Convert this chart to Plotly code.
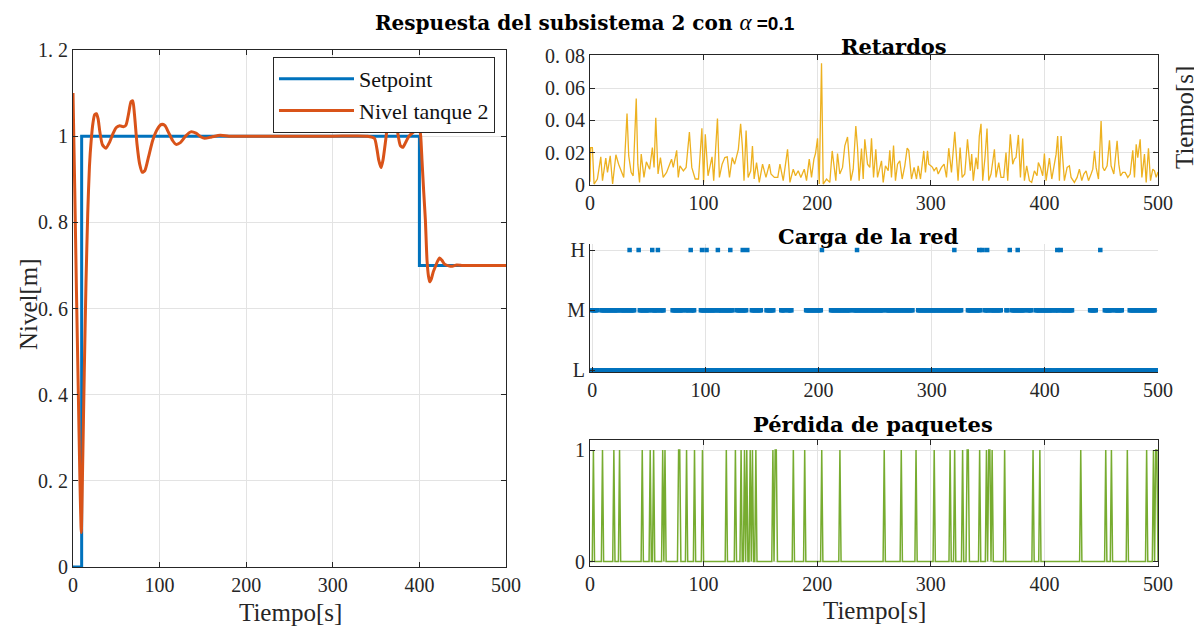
import numpy as np
import plotly.graph_objects as go

# ---------------- DATA ----------------
# Left: setpoint and tank level
sp_t = [0, 10, 10, 400, 400, 500]
sp_v = [0, 0, 1, 1, 0.7, 0.7]

lvl_t = [0, 2, 4, 6, 8, 9.6, 11, 13, 15, 17, 19, 21, 23, 25, 27, 29, 31, 34, 38, 42, 46, 50,
         54, 58, 61, 64, 67, 69, 71, 74, 77, 80, 83, 87, 92, 97, 102, 106, 110, 115, 119, 124,
         130, 136, 142, 148, 152, 160, 170, 180, 200, 250, 300, 340, 348, 351, 353, 355.7, 358,
         361, 364, 367, 369, 371, 373.5, 376, 378, 381, 384, 388, 392, 395, 398, 400.4, 401.5,
         403, 405, 406.9, 408.8, 410.5, 411.9, 414, 416, 418.4, 421, 423.4, 426, 429, 433.8,
         438, 443, 450, 460, 475, 500]
lvl_v = [1.10, 0.88, 0.64, 0.42, 0.20, 0.08, 0.22, 0.45, 0.66, 0.82, 0.93, 0.99, 1.03, 1.05,
         1.052, 1.04, 1.01, 0.98, 0.972, 0.985, 1.005, 1.02, 1.024, 1.022, 1.025, 1.05, 1.08,
         1.082, 1.05, 0.98, 0.935, 0.916, 0.92, 0.95, 0.99, 1.015, 1.027, 1.025, 1.01, 0.99,
         0.981, 0.985, 1.0, 1.01, 1.007, 0.998, 0.995, 0.998, 1.002, 1.0, 1.0, 1.0, 1.0, 1.0,
         0.995, 0.97, 0.945, 0.927, 0.945, 0.99, 1.04, 1.075, 1.085, 1.07, 1.03, 0.995, 0.978,
         0.974, 0.985, 1.0, 1.008, 1.012, 1.013, 1.014, 1.0, 0.944, 0.87, 0.805, 0.712, 0.675,
         0.662, 0.67, 0.685, 0.697, 0.71, 0.717, 0.712, 0.703, 0.699, 0.698, 0.701, 0.700,
         0.700, 0.700, 0.700]

# Retardos (delay, s)
ret_t = [0, 0.6, 2.1, 3.6, 6.5, 9.5, 11.0, 13.9, 15.4, 17.8, 19.9, 22.8, 25.2, 27.3, 29.7, 32.6,
         34.1, 36.2, 38.0, 40.7, 42.1, 43.6, 45.1, 47.5, 49.6, 52.5, 54.9, 56.4, 57.9, 59.9,
         62.0, 64.4, 67.4, 71.8, 73.3, 76.3, 77.7, 79.2, 82.2, 84.6, 87.5, 89.6, 92.6, 95.5,
         98.5, 100.0, 101.5, 103.9, 107.4, 108.9, 112.2, 113.9, 116.3, 118.7, 120.8, 122.8,
         125.2, 127.3, 130.6, 132.6, 134.1, 135.6, 137.4, 139.2, 141.5, 143.0, 144.5, 146.6,
         149.0, 151.9, 153.4, 154.9, 157.9, 159.3, 162.3, 165.3, 167.2, 170.1, 173.9, 176.0,
         178.9, 180.9, 183.3, 185.6, 188.6, 190.6, 193.0, 195.0, 197.1, 198.5, 200.3, 201.8,
         203.8, 205.3, 208.2, 211.1, 213.2, 215.0, 216.4, 217.9, 219.9, 222.3, 224.3, 226.7,
         227.9, 229.6, 231.7, 234.0, 235.5, 236.9, 239.0, 240.5, 241.9, 244.3, 246.3, 247.8,
         249.6, 251.6, 253.1, 255.1, 256.6, 258.1, 260.1, 262.5, 263.9, 265.4, 267.2, 268.9,
         270.7, 272.7, 274.8, 277.1, 279.2, 280.6, 283.0, 285.3, 287.4, 288.9, 290.9, 293.8,
         295.3, 297.1, 298.2, 300.0, 301.5, 302.9, 305.0, 306.5, 309.4, 311.7, 313.8, 315.8,
         318.2, 321.1, 322.6, 324.0, 325.8, 327.6, 329.9, 332.3, 334.8, 336.0, 337.4, 339.8,
         341.3, 342.7, 344.2, 345.7, 347.7, 349.5, 351.0, 353.0, 356.0, 357.4, 359.8, 361.8,
         364.2, 366.2, 367.7, 370.0, 372.1, 373.6, 375.0, 377.1, 378.9, 380.9, 382.4, 384.4,
         386.8, 388.8, 391.2, 393.5, 394.7, 396.5, 398.5, 400.0, 401.5, 402.9, 404.4, 406.5,
         408.8, 410.3, 411.7, 413.2, 414.7, 416.4, 417.6, 420.0, 422.0, 423.5, 426.4, 428.8,
         430.8, 432.9, 434.7, 436.7, 438.8, 441.1, 442.6, 444.1, 445.5, 447.6, 449.9, 451.4,
         452.9, 455.2, 457.3, 458.7, 461.1, 464.0, 465.5, 467.0, 469.0, 471.1, 473.4, 475.5,
         477.8, 479.3, 480.8, 482.2, 484.3, 485.8, 488.1, 489.6, 491.6, 493.4, 495.4, 496.9,
         498.4, 500]
ret_v = [0.002, 0.0232, 0.0232, 0.0006, 0.0037, 0.0174, 0.0027, 0.0166, 0.0078, 0.018, 0.0006,
         0.0187, 0.0129, 0.0088, 0.0047, 0.0443, 0.018, 0.0078, 0.0057, 0.0535, 0.0129, 0.0016,
         0.0191, 0.0047, 0.0144, 0.0098, 0.0232, 0.0109, 0.0416, 0.0068, 0.017, 0.0047, 0.0078,
         0.016, 0.0109, 0.0215, 0.0047, 0.0119, 0.0088, 0.0109, 0.0328, 0.0109, 0.0037, 0.0037,
         0.0351, 0.0016, 0.0314, 0.0057, 0.0174, 0.0027, 0.0412, 0.0047, 0.0129, 0.017, 0.0174,
         0.0047, 0.017, 0.0129, 0.0221, 0.0379, 0.0242, 0.0027, 0.0338, 0.0047, 0.0088, 0.0242,
         0.0037, 0.0139, 0.0016, 0.0129, 0.0088, 0.0047, 0.0129, 0.0068, 0.0047, 0.0047, 0.0129,
         0.0027, 0.0221, 0.0016, 0.0098, 0.0057, 0.0088, 0.0047, 0.0098, 0.0027, 0.016, 0.0047,
         0.016, 0.0195, 0.0289, 0.0006, 0.0754, 0.0006, 0.0037, 0.0016, 0.0211, 0.0088, 0.0027,
         0.0195, 0.0068, 0.0109, 0.0242, 0.0297, 0.017, 0.0027, 0.0098, 0.0365, 0.0232, 0.0027,
         0.0226, 0.0037, 0.0283, 0.0129, 0.0109, 0.0289, 0.0047, 0.0221, 0.0047, 0.0119, 0.015,
         0.0016, 0.0119, 0.0088, 0.0215, 0.0047, 0.0244, 0.0027, 0.0129, 0.015, 0.0037, 0.0119,
         0.0228, 0.0215, 0.0037, 0.0109, 0.0037, 0.0119, 0.0037, 0.0211, 0.0078, 0.0211, 0.0129,
         0.0119, 0.0109, 0.0088, 0.0109, 0.0068, 0.0109, 0.0129, 0.0047, 0.0228, 0.0078, 0.033,
         0.0191, 0.0027, 0.0232, 0.0047, 0.0068, 0.0283, 0.0088, 0.0191, 0.0027, 0.017, 0.0098,
         0.0303, 0.0379, 0.0027, 0.017, 0.0349, 0.0027, 0.0068, 0.0221, 0.0047, 0.0139, 0.0047,
         0.0047, 0.0201, 0.0027, 0.0314, 0.0129, 0.016, 0.017, 0.031, 0.0047, 0.0287, 0.0027,
         0.0119, 0.0027, 0.0016, 0.0088, 0.0057, 0.0139, 0.0109, 0.0057, 0.0195, 0.0027, 0.0088,
         0.0166, 0.0037, 0.0129, 0.0191, 0.0303, 0.0027, 0.0303, 0.017, 0.0027, 0.0109, 0.0119,
         0.0047, 0.0016, 0.0047, 0.0098, 0.0027, 0.0068, 0.0088, 0.0027, 0.0068, 0.0098, 0.0211,
         0.0109, 0.0037, 0.0396, 0.0109, 0.0088, 0.0119, 0.0277, 0.0119, 0.0068, 0.0273, 0.0129,
         0.0057, 0.0078, 0.0078, 0.0047, 0.0068, 0.0215, 0.0047, 0.0252, 0.017, 0.0283, 0.0047,
         0.0191, 0.0016, 0.0228, 0.0027, 0.0098, 0.0088, 0.0047, 0.008]

# Carga de la red: times at each level
carga_H_t = [33, 41, 53, 58, 87, 97, 101, 111, 122, 133, 137, 203, 234, 320, 342, 345, 349,
             369, 376, 411, 414, 449]
carga_M_seg = [(0, 4), (8, 23), (25, 37), (42, 50), (53, 58), (60, 63), (71, 80), (83, 85),
               (87, 90), (96, 109), (111, 124), (128, 136), (141, 149), (154, 160), (167, 170),
               (173, 176), (189, 202), (211, 221), (222, 228), (231, 257), (260, 283),
               (288, 298), (299, 326), (332, 343), (347, 350), (352, 361), (366, 367),
               (371, 382), (385, 388), (392, 407), (409, 412), (414, 424), (440, 445),
               (453, 459), (462, 468), (475, 497)]
carga_L_seg = [(0, 296), (298, 374), (376, 407), (409, 500)]
carga_ticks = ["L", "M", "H"]

# Pérdida de paquetes: instants with a lost packet
loss_t = [3, 11, 21, 26, 46, 53, 56, 64, 66, 78, 79, 85, 92, 99, 120, 128, 133, 136, 138, 141,
          143, 146, 161, 163, 164, 179, 189, 204, 220, 259, 274, 287, 303, 317, 321, 328, 332,
          333, 343, 349, 351, 352, 354, 365, 390, 396, 432, 454, 459, 473, 490, 496, 498, 499]

# Tick labels
lvl_ticks = [0, 0.2, 0.4, 0.6, 0.8, 1.0, 1.2]
lvl_ticktext = ["0", "0. 2", "0. 4", "0. 6", "0. 8", "1", "1. 2"]
ret_ticks = [0, 0.02, 0.04, 0.06, 0.08]
ret_ticktext = ["0", "0. 02", "0. 04", "0. 06", "0. 08"]
time_ticks = [0, 100, 200, 300, 400, 500]

# ---------------- BUILD ----------------
def expand(segs):
    out = []
    for a, b in segs:
        out.extend(range(a, b + 1))
    return out

M_t = expand(carga_M_seg)
L_t = expand(carga_L_seg)
t_loss = np.arange(0, 501)
loss_v = np.zeros(len(t_loss))
loss_v[loss_t] = 1

BLUE = "#0072BD"; ORANGE = "#D95319"; YELLOW = "#EDB120"; GREEN = "#77AC30"
AX = "#262626"; GRID = "#e3e3e3"
SERIF = "Liberation Serif"
TFONT = dict(family=SERIF, size=20, color=AX)
BOLD = "DejaVu Serif"

# page body adds an 8px offset; the figure is sized to the remaining view
OFF = 8
W, H = 1202 - OFF, 630 - OFF
def px(x0, x1):
    return [(x0 - OFF) / W, (x1 - OFF) / W]
def py(ytop, ybot):
    return [1 - (ybot - OFF) / H, 1 - (ytop - OFF) / H]
def pxy(x, y):
    return (x - OFF) / W, 1 - (y - OFF) / H

fig = go.Figure()

fig.add_trace(go.Scatter(x=sp_t, y=sp_v, mode="lines", name="Setpoint",
                         line=dict(color=BLUE, width=3), xaxis="x", yaxis="y"))
fig.add_trace(go.Scatter(x=lvl_t, y=lvl_v, mode="lines", name="Nivel tanque 2",
                         line=dict(color=ORANGE, width=3, shape="spline", smoothing=0.6),
                         xaxis="x", yaxis="y"))

fig.add_trace(go.Scatter(x=ret_t, y=ret_v, mode="lines", showlegend=False,
                         line=dict(color=YELLOW, width=1.3), xaxis="x2", yaxis="y2"))

mk = dict(symbol="square", size=4.5, color=BLUE, line=dict(width=0))
fig.add_trace(go.Scatter(x=L_t, y=[1] * len(L_t), mode="markers", showlegend=False,
                         marker=mk, xaxis="x3", yaxis="y3"))
fig.add_trace(go.Scatter(x=M_t, y=[2] * len(M_t), mode="markers", showlegend=False,
                         marker=mk, xaxis="x3", yaxis="y3"))
fig.add_trace(go.Scatter(x=carga_H_t, y=[3] * len(carga_H_t), mode="markers", showlegend=False,
                         marker=mk, xaxis="x3", yaxis="y3"))

fig.add_trace(go.Scatter(x=t_loss, y=loss_v, mode="lines", showlegend=False,
                         line=dict(color=GREEN, width=1.5), xaxis="x4", yaxis="y4"))

common = dict(showgrid=True, gridcolor=GRID, gridwidth=1, showline=True, linecolor=AX,
              linewidth=1, ticks="inside", ticklen=5, tickcolor=AX, tickfont=TFONT,
              zeroline=False, automargin=False)

lx, ly = pxy(495, 57)
fig.update_layout(
    template="none",
    width=W, height=H, margin=dict(l=0, r=0, t=0, b=0, pad=0), autosize=False,
    paper_bgcolor="white", plot_bgcolor="white",
    xaxis=dict(domain=px(73, 506), range=[0, 500], tickvals=time_ticks, mirror="ticks",
               anchor="y", **common),
    yaxis=dict(domain=py(50, 567), range=[0, 1.2], tickvals=lvl_ticks, ticktext=lvl_ticktext,
               mirror="ticks", anchor="x", **common),
    xaxis2=dict(domain=px(590, 1158), range=[0, 500], tickvals=time_ticks, mirror="ticks",
                anchor="y2", **common),
    yaxis2=dict(domain=py(55, 185), range=[0, 0.0805], tickvals=ret_ticks,
                ticktext=ret_ticktext, mirror="ticks", anchor="x2", **common),
    xaxis3=dict(domain=px(590, 1158), range=[-2, 500], tickvals=time_ticks, anchor="y3",
                **common),
    yaxis3=dict(domain=py(244, 372), range=[0.975, 3.1], tickvals=[1, 2, 3],
                ticktext=carga_ticks, anchor="x3", **common),
    xaxis4=dict(domain=px(590, 1158), range=[0, 500], tickvals=time_ticks, mirror="ticks",
                anchor="y4", **common),
    yaxis4=dict(domain=py(440, 566), range=[-0.04, 1.09], tickvals=[0, 1], mirror="ticks",
                anchor="x4", **common),
    legend=dict(x=lx, y=ly, xanchor="right", yanchor="top",
                bgcolor="white", bordercolor=AX, borderwidth=1,
                font=dict(family=SERIF, size=22, color="#111"),
                itemwidth=75, tracegroupgap=0),
    showlegend=True,
)

def ann(text, x, y, size=25, angle=0, color=AX, family=SERIF):
    ax_, ay_ = pxy(x, y)
    fig.add_annotation(text=text, x=ax_, y=ay_,
                       xref="paper", yref="paper", showarrow=False, textangle=angle,
                       font=dict(family=family, size=size, color=color),
                       xanchor="center", yanchor="middle")

ann("<b>Respuesta del subsistema 2 con </b><span style='font-family:Liberation Serif;font-size:23px'><i>α</i></span>"
    "<b><span style='font-family:Liberation Sans;font-size:19px'> =0.1</span></b>",
    585, 23, size=20, color="#000", family=BOLD)

ann("<b>Retardos</b>", 894, 46, size=21, color="#000", family=BOLD)
ann("<b>Carga de la red</b>", 868, 236, size=21, color="#000", family=BOLD)
ann("<b>Pérdida de paquetes</b>", 873, 424, size=21, color="#000", family=BOLD)

ann("Nivel[m]", 28, 304, angle=-90)
ann("Tiempo[s]", 290, 612)
ann("Tiempo[s]", 874, 610)
ann("Tiempo[s]", 1184, 118, angle=-90)

fig.write_html("out.html")
